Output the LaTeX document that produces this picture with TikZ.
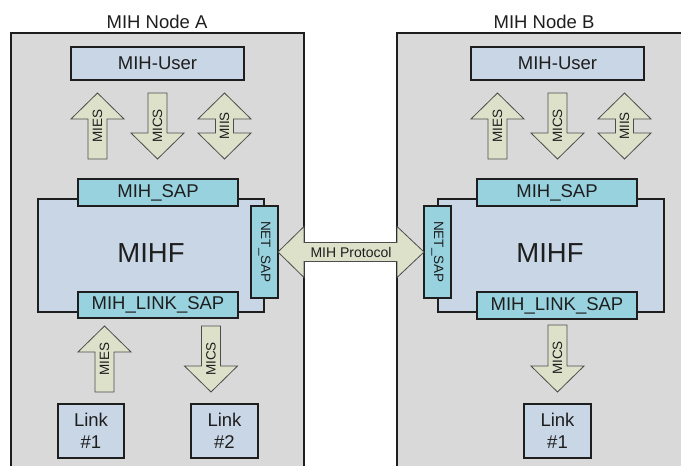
\documentclass[tikz,border=0pt]{standalone}
\usepackage{fontspec}
\setmainfont{Liberation Sans}
\definecolor{framegray}{HTML}{D9D9D9}
\definecolor{boxblue}{HTML}{C9D6E6}
\definecolor{sapcyan}{HTML}{98D2DF}
\definecolor{arrowfill}{HTML}{DDE1CA}
\definecolor{inkc}{HTML}{1E1E1E}
\newcommand\MyUpArrow[3]{% cx, top, bottom
  \path[blockarrow] ({#1},{#2}) -- ({#1+26.5},{#2+26}) -- ({#1+9.5},{#2+26}) -- ({#1+9.5},{#3})
    -- ({#1-9.5},{#3}) -- ({#1-9.5},{#2+26}) -- ({#1-26.5},{#2+26}) -- cycle;}
\newcommand\MyDownArrow[3]{% cx, top, bottom
  \path[blockarrow] ({#1},{#3}) -- ({#1+26.5},{#3-26}) -- ({#1+9.5},{#3-26}) -- ({#1+9.5},{#2})
    -- ({#1-9.5},{#2}) -- ({#1-9.5},{#3-26}) -- ({#1-26.5},{#3-26}) -- cycle;}
\newcommand\MyDblArrow[3]{% cx, top, bottom
  \path[blockarrow] ({#1},{#2}) -- ({#1+26.5},{#2+26}) -- ({#1+9},{#2+26}) -- ({#1+9},{#3-26})
    -- ({#1+26.5},{#3-26}) -- ({#1},{#3}) -- ({#1-26.5},{#3-26}) -- ({#1-9},{#3-26})
    -- ({#1-9},{#2+26}) -- ({#1-26.5},{#2+26}) -- cycle;}
\begin{document}
\begin{tikzpicture}[x=1pt,y=-1pt,
  bluebox/.style={draw=inkc,line width=1.3pt,fill=boxblue,inner sep=0pt,outer sep=0pt,
     font=\fontsize{18.5}{21.5}\selectfont,align=center,text=inkc},
  sapbox/.style={draw=inkc,line width=1.3pt,fill=sapcyan,inner sep=0pt,outer sep=0pt,
     font=\fontsize{18.5}{21.5}\selectfont,text=inkc},
  blockarrow/.style={draw=black!70,line width=0.8pt,fill=arrowfill,line join=miter},
  title/.style={font=\fontsize{18.5}{21.5}\selectfont,text=inkc,inner sep=0pt},
  small/.style={font=\fontsize{13.5}{15}\selectfont,text=inkc,inner sep=0pt}]
\useasboundingbox (0,0) rectangle (681,466);
\begin{scope}
\clip (0,0) rectangle (681,466);
% frames
\fill[framegray] (11,33) rectangle (304,470);
\draw[inkc,line width=1.3pt] (11,470) -- (11,33) -- (304,33) -- (304,470);
\fill[framegray] (397,33) rectangle (685,470);
\draw[inkc,line width=1.3pt] (397,470) -- (397,33) -- (685,33);
\end{scope}
\node[title] (titleA) at (157,22) {MIH Node A};
\node[title] (titleB) at (544,22) {MIH Node B};
% ---------- Node A ----------
\node[bluebox,minimum width=173pt,minimum height=33pt] (userA) at (157.5,63.5) {MIH-User};
\MyUpArrow{97.5}{93}{159}
\node[small,rotate=90] (miesA) at (97.5,126) {MIES};
\MyDownArrow{157.5}{93}{159}
\node[small,rotate=90] (micsA) at (157.5,126) {MICS};
\MyDblArrow{224.5}{93}{159}
\node[small,rotate=90] (miisA) at (224.5,126) {MIIS};
\node[bluebox,minimum width=226pt,minimum height=113pt] (mihfA) at (151,255.5) {};
\node[font=\fontsize{27.5}{30}\selectfont,text=inkc,inner sep=0pt] (mihfAl) at (151,253) {MIHF};
\node[sapbox,minimum width=160pt,minimum height=27pt] (sapA) at (158,192.5) {MIH\_SAP};
\node[sapbox,minimum width=160pt,minimum height=26pt] (linksapA) at (158,305) {MIH\_LINK\_SAP};
\node[sapbox,minimum width=27pt,minimum height=92pt] (netA) at (264.5,252) {};
\node[small,rotate=-90] (netAl) at (264.5,252) {NET\_SAP};
\MyUpArrow{104.5}{326}{392}
\node[small,rotate=90] (miesA2) at (104.5,359) {MIES};
\MyDownArrow{211}{326}{392}
\node[small,rotate=90] (micsA2) at (211,359) {MICS};
\node[bluebox,minimum width=66pt,minimum height=54pt] (link1A) at (91,431) {Link\\\#1};
\node[bluebox,minimum width=67pt,minimum height=54pt] (link2A) at (224.5,431) {Link\\\#2};
% ---------- Node B ----------
\node[bluebox,minimum width=173pt,minimum height=33pt] (userB) at (557.5,63.5) {MIH-User};
\MyUpArrow{497.5}{93}{159}
\node[small,rotate=90] (miesB) at (497.5,126) {MIES};
\MyDownArrow{557.5}{93}{159}
\node[small,rotate=90] (micsB) at (557.5,126) {MICS};
\MyDblArrow{624.5}{93}{159}
\node[small,rotate=90] (miisB) at (624.5,126) {MIIS};
\node[bluebox,minimum width=226pt,minimum height=113pt] (mihfB) at (551,255.5) {};
\node[font=\fontsize{27.5}{30}\selectfont,text=inkc,inner sep=0pt] (mihfBl) at (550,253) {MIHF};
\node[sapbox,minimum width=160pt,minimum height=27pt] (sapB) at (557,192.5) {MIH\_SAP};
\node[sapbox,minimum width=160pt,minimum height=27pt] (linksapB) at (557,305.5) {MIH\_LINK\_SAP};
\node[sapbox,minimum width=27pt,minimum height=92pt] (netB) at (437.5,252) {};
\node[small,rotate=-90] (netBl) at (437.5,252) {NET\_SAP};
\MyDownArrow{557.5}{325}{392}
\node[small,rotate=90] (micsB2) at (557.5,358) {MICS};
\node[bluebox,minimum width=67pt,minimum height=54pt] (link1B) at (557.5,431) {Link\\\#1};
% ---------- MIH Protocol ----------
\path[blockarrow] (netA.east) -- ++(26,-25.5) -- ++(0,16) -- ++(93,0) -- ++(0,-16)
  -- (netB.west) -- ++(-27,25.5) -- ++(0,-16) -- ++(-93,0) -- ++(0,16) -- cycle;
\node[font=\fontsize{14}{16}\selectfont,text=inkc,inner sep=0pt] (proto) at (351,252.5) {MIH Protocol};
\end{tikzpicture}
\end{document}
